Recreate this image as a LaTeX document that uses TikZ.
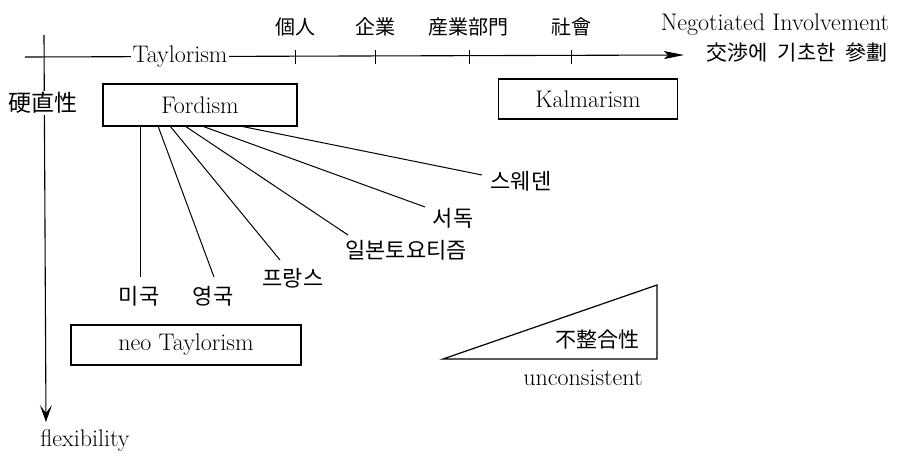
\documentclass[tikz,border=0pt]{standalone}
\usepackage{fontspec}
\newfontfamily\kr{Noto Sans CJK KR}
\usetikzlibrary{arrows.meta}
\begin{document}
\begin{tikzpicture}[x=1pt,y=-1pt,line width=1pt,
  en/.style={font=\fontsize{24}{28}\selectfont,inner sep=0pt},
  ko/.style={font=\kr\fontsize{22}{26}\selectfont,inner sep=0pt},
  han/.style={font=\kr\fontsize{20}{24}\selectfont,inner sep=0pt},
  box/.style={draw,line width=1.2pt,inner sep=0pt,font=\fontsize{24}{28}\selectfont},
  spoke/.style={line width=1pt},
  tick/.style={line width=1pt},
  harrow/.style={line width=1.1pt,-{Stealth[length=20pt,width=8pt,inset=4pt]}},
  varrow/.style={line width=1.1pt,-{Stealth[length=17pt,width=12pt,inset=8pt]}}]
\useasboundingbox (0,0) rectangle (910,458);
% axes
\coordinate (hL) at (25,57);
\coordinate (hR) at (684,55);
\coordinate (vT) at (44,35);
\coordinate (vB) at (46,422);
\draw[harrow] (hL) -- (hR);
\draw[varrow] (vT) -- (vB);
\node[en,fill=white,inner xsep=2pt] (taylor) at (180,57) {Taylorism};
\node[han,fill=white,inner sep=1pt,font=\kr\fontsize{23}{26}\selectfont] (rigid) at (43,103) {硬直性};
\node[en] (flex) at (85,441) {flexibility};
% ticks
\foreach \x/\n in {295/a,375/b,469/c,571/d}{
  \coordinate (t\n1) at (\x,50);
  \coordinate (t\n2) at (\x,64);
  \draw[tick] (t\n1) -- (t\n2);
}
\node[han] (l1) at (295,27) {個人};
\node[han] (l2) at (375,27) {企業};
\node[han] (l3) at (468,27) {産業部門};
\node[han] (l4) at (571,27) {社會};
\node[en] (neg) at (775,25) {Negotiated Involvement};
\node[ko,font=\kr\fontsize{21}{24}\selectfont] (negk) at (797,53) {交渉에\hspace{10pt}기초한\hspace{10pt}參劃};
% boxes
\node[box,minimum width=194pt,minimum height=42pt] (ford) at (200,105) {Fordism};
\node[box,minimum width=179pt,minimum height=40pt] (kalm) at (588,99) {Kalmarism};
\node[box,minimum width=230pt,minimum height=40pt] (neo) at (186,345) {neo Taylorism};
% spokes
\coordinate (s1) at (140,126); \coordinate (e1) at (140,277);
\coordinate (s2) at (158,126); \coordinate (e2) at (214,277);
\coordinate (s3) at (170,126); \coordinate (e3) at (280,260);
\coordinate (s4) at (185,126); \coordinate (e4) at (348,235);
\coordinate (s5) at (202,126); \coordinate (e5) at (425,207);
\coordinate (s6) at (240,126); \coordinate (e6) at (482,175);
\foreach \i in {1,...,6}{\draw[spoke] (s\i) -- (e\i);}
\node[ko] (usa) at (139,296) {미국};
\node[ko] (uk) at (213,296) {영국};
\node[ko] (fr) at (293,278) {프랑스};
\node[ko] (jp) at (406,250) {일본토요티즘};
\node[ko] (de) at (453,218) {서독};
\node[ko] (se) at (521,181) {스웨덴};
% triangle
\coordinate (ta) at (443,359);
\coordinate (tb) at (657,285);
\coordinate (tc) at (657,359);
\draw[line width=1.2pt] (ta) -- (tb) -- (tc) -- cycle;
\node[han,font=\kr\fontsize{21}{24}\selectfont] (incons) at (597,340) {不整合性};
\node[en] (uncons) at (583,378) {unconsistent};
\end{tikzpicture}
\end{document}
